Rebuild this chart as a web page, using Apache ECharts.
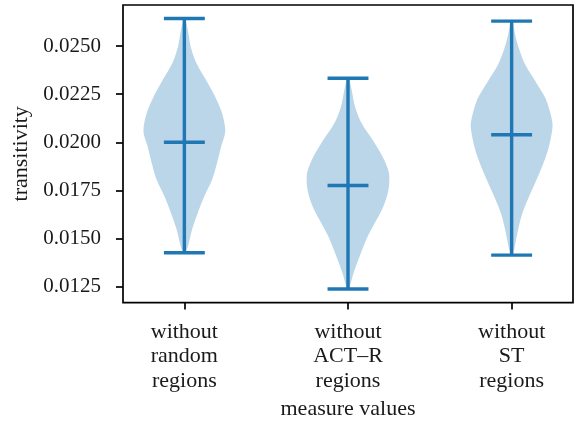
<!DOCTYPE html>
<html>
<head>
<meta charset="utf-8">
<script src="https://cdn.jsdelivr.net/npm/echarts@6/dist/echarts.min.js"></script>
<style>
  html, body { margin: 0; padding: 0; background: #fff; }
  #chart { width: 575px; height: 425px; }
</style>
</head>
<body>
<div id="chart"></div>
<script>
// Groups compared on the x axis
const categories = ['without\nrandom\nregions', 'without\nACT\u2013R\nregions', 'without\nST\nregions'];
const positions = [1, 2, 3];

// Summary statistics of each distribution
const minimums = [0.01425, 0.012365, 0.01413];
const maximums = [0.02644, 0.02333, 0.02630];
const means = [0.0200, 0.01775, 0.02039];

// Y tick labels
const yTicks = [0.0125, 0.0150, 0.0175, 0.0200, 0.0225, 0.0250];

// Kernel density profiles: sample levels (top to bottom) and relative density (peak = 1)
const levelsRandom = [0.02644, 0.02566, 0.02497, 0.02411, 0.02324, 0.02238, 0.02152, 0.02057,
  0.01979, 0.01893, 0.01806, 0.01720, 0.01634, 0.01547, 0.01461, 0.01425];
const densityRandom = [0.02, 0.10, 0.155, 0.295, 0.53, 0.75, 0.92, 1.0,
  0.90, 0.80, 0.68, 0.49, 0.33, 0.19, 0.09, 0.02];

const levelsActR = [0.02333, 0.02272, 0.02186, 0.02100, 0.02013, 0.01927, 0.01841, 0.01754,
  0.01669, 0.01582, 0.01496, 0.01410, 0.01323, 0.01254, 0.012365];
const densityActR = [0.02, 0.09, 0.17, 0.33, 0.60, 0.84, 1.0, 0.99,
  0.87, 0.66, 0.45, 0.29, 0.14, 0.05, 0.02];

const levelsST = [0.02630, 0.02556, 0.02487, 0.02400, 0.02314, 0.02228, 0.02141, 0.02081,
  0.01969, 0.01882, 0.01796, 0.01710, 0.01623, 0.01537, 0.01451, 0.01413];
const densityST = [0.02, 0.09, 0.18, 0.34, 0.59, 0.83, 0.96, 1.0,
  0.90, 0.76, 0.59, 0.41, 0.25, 0.15, 0.07, 0.02];

const profiles = [
  { levels: levelsRandom, density: densityRandom },
  { levels: levelsActR, density: densityActR },
  { levels: levelsST, density: densityST }
];

const BLUE = '#1f77b4';
const VIOLIN_HALF = 0.25;   // half of the violin width, in x units
const CAP_HALF = 0.125;     // half of the cap length, in x units
const FONT = 'Liberation Serif';
const TEXT = '#1a1a1a';

function renderViolin(params, api) {
  const i = params.dataIndex;
  const pos = positions[i];
  const prof = profiles[i];
  const left = prof.levels.map((lv, k) => api.coord([pos - VIOLIN_HALF * prof.density[k], lv]));
  const right = prof.levels.map((lv, k) => api.coord([pos + VIOLIN_HALF * prof.density[k], lv])).reverse();
  const top = api.coord([pos, maximums[i]]);
  const bottom = api.coord([pos, minimums[i]]);
  const lineStyle = { stroke: BLUE, lineWidth: 3.4 };
  const hline = (val) => {
    const a = api.coord([pos - CAP_HALF, val]);
    const b = api.coord([pos + CAP_HALF, val]);
    return { type: 'line', shape: { x1: a[0], y1: a[1], x2: b[0], y2: b[1] }, style: lineStyle };
  };
  return {
    type: 'group',
    children: [
      { type: 'polygon', shape: { points: left.concat(right), smooth: 0.3 },
        style: { fill: 'rgba(31,119,180,0.3)', stroke: null } },
      { type: 'line', shape: { x1: top[0], y1: top[1], x2: bottom[0], y2: bottom[1] }, style: lineStyle },
      hline(maximums[i]),
      hline(minimums[i]),
      hline(means[i])
    ]
  };
}

const chart = echarts.init(document.getElementById('chart'), null, { renderer: 'canvas' });
chart.setOption({
  animation: false,
  backgroundColor: '#fff',
  textStyle: { fontFamily: FONT, color: TEXT },
  grid: {
    left: 123, top: 5, right: 2, bottom: 121,
    show: true, borderColor: '#000', borderWidth: 1.7, backgroundColor: 'transparent'
  },
  xAxis: {
    type: 'value',
    min: 0.625, max: 3.375,
    splitLine: { show: false },
    axisLine: { show: false },
    axisTick: { show: true, customValues: positions, length: 7, lineStyle: { color: '#000', width: 1.7 } },
    axisLabel: {
      customValues: positions,
      formatter: (v) => categories[Math.round(v) - 1],
      fontFamily: FONT, fontSize: 22, lineHeight: 24.5, color: TEXT, margin: 17, align: 'center'
    },
    name: 'measure values',
    nameLocation: 'middle',
    nameGap: 94,
    nameTextStyle: { fontFamily: FONT, fontSize: 22, color: TEXT, verticalAlign: 'top' }
  },
  yAxis: {
    type: 'value',
    min: 0.01166, max: 0.02714,
    splitLine: { show: false },
    axisLine: { show: false },
    axisTick: { show: true, customValues: yTicks, length: 7, lineStyle: { color: '#000', width: 1.7 } },
    axisLabel: {
      customValues: yTicks,
      formatter: (v) => v.toFixed(4),
      fontFamily: FONT, fontSize: 21, color: TEXT, margin: 22
    },
    name: 'transitivity',
    nameLocation: 'middle',
    nameRotate: 90,
    nameGap: 85,
    nameTextStyle: { fontFamily: FONT, fontSize: 22, color: TEXT }
  },
  series: [{
    type: 'custom',
    renderItem: renderViolin,
    data: positions.map((p, i) => [p, means[i]]),
    encode: { x: 0, y: 1 },
    silent: true
  }]
});
</script>
</body>
</html>
